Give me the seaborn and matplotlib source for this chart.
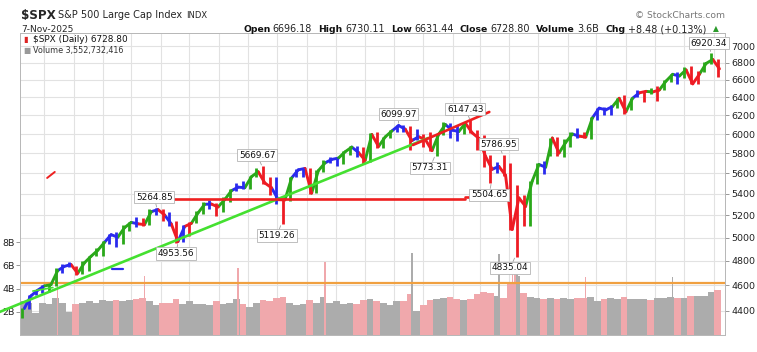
import numpy as np
import pandas as pd
import matplotlib
matplotlib.use("Agg")
import matplotlib.pyplot as plt
from matplotlib.ticker import FixedLocator, NullLocator, FixedFormatter
from matplotlib.transforms import blended_transform_factory
import seaborn as sns

# ---------------- data (weekly) ----------------
week_end = pd.date_range("2023-11-10", periods=105, freq="7D")
week_high = [4418, 4521, 4560, 4598, 4610, 4739, 4778, 4793, 4754, 4802,
             4842, 4907, 4975, 5030, 5048, 5111, 5140, 5189, 5179, 5261,
             5265, 5263, 5230, 5149, 5114, 5140, 5239, 5325, 5342, 5315,
             5375, 5447, 5505, 5524, 5570, 5655, 5670, 5566, 5566, 5358,
             5564, 5643, 5651, 5651, 5636, 5734, 5767, 5757, 5823, 5878,
             5878, 5863, 6012, 6018, 5972, 6044, 6100, 6100, 6085, 6050,
             6000, 6021, 5997, 6128, 6120, 6101, 6128, 6147, 6043, 5987,
             5783, 5715, 5787, 5700, 5481, 5386, 5528, 5700, 5721, 5959,
             5968, 5944, 6016, 6059, 6024, 6187, 6284, 6290, 6315, 6395,
             6427, 6395, 6481, 6469, 6508, 6532, 6600, 6672, 6693, 6750,
             6764, 6707, 6807, 6920, 6850]
week_low = [4340, 4413, 4525, 4537, 4546, 4590, 4697, 4751, 4682, 4689,
            4714, 4845, 4845, 4942, 4920, 4946, 5057, 5091, 5104, 5117,
            5204, 5146, 5107, 4954, 4963, 5012, 5130, 5211, 5256, 5191,
            5234, 5325, 5429, 5447, 5445, 5560, 5497, 5391, 5306, 5119,
            5331, 5560, 5560, 5403, 5406, 5615, 5703, 5674, 5696, 5784,
            5762, 5696, 5707, 5853, 5854, 5960, 6017, 6024, 5832, 5932,
            5869, 5827, 5773, 5990, 5962, 5923, 6003, 6008, 5837, 5666,
            5505, 5603, 5572, 5070, 4835, 5102, 5101, 5500, 5590, 5768,
            5768, 5767, 5861, 5963, 5953, 5943, 6145, 6201, 6201, 6281,
            6212, 6257, 6400, 6343, 6441, 6360, 6481, 6577, 6551, 6625,
            6551, 6551, 6690, 6780, 6631]
week_close = [4415, 4514, 4559, 4594, 4604, 4719, 4755, 4770, 4697, 4784,
              4840, 4891, 4959, 5027, 5005, 5089, 5137, 5124, 5117, 5234,
              5254, 5204, 5123, 4967, 5100, 5128, 5223, 5303, 5305, 5278,
              5347, 5431, 5465, 5460, 5567, 5615, 5505, 5459, 5346, 5344,
              5554, 5634, 5648, 5408, 5626, 5703, 5738, 5751, 5815, 5864,
              5808, 5729, 5995, 5870, 5969, 6032, 6090, 6051, 5931, 5971,
              5942, 5827, 5997, 6101, 6041, 6026, 6115, 6013, 5955, 5770,
              5639, 5668, 5581, 5074, 5363, 5283, 5525, 5687, 5660, 5958,
              5803, 5912, 6000, 5977, 5968, 6173, 6279, 6260, 6297, 6389,
              6238, 6389, 6450, 6467, 6460, 6482, 6584, 6664, 6644, 6716,
              6553, 6664, 6792, 6840, 6728]
week_color = list("gbbbggbbrg" "gggbbggbrg" "brbrbrggbr" "ggbbggrrbr"
                  "gbbrggbbgg" "brgrggbbrb" "rrggbbgrrr" "rbrrrrggbg"
                  "rggbrgbbbg" "rgbrgrggbg" "rrggr")
week_volume = [2.9, 2.8, 1.9, 2.8, 2.7, 3.2, 2.8, 2.0, 2.7, 2.8,
               2.9, 2.8, 3.0, 2.9, 3.0, 2.9, 3.0, 3.1, 3.2, 2.9,
               2.6, 2.8, 2.8, 3.1, 2.7, 2.9, 2.7, 2.7, 2.6, 2.9,
               2.7, 2.8, 3.1, 2.7, 2.4, 2.8, 3.0, 2.9, 3.2, 3.3,
               2.8, 2.6, 2.7, 3.0, 2.8, 3.3, 2.8, 2.9, 2.7, 2.8,
               2.7, 3.0, 3.1, 2.9, 2.8, 2.6, 2.9, 2.9, 3.5, 2.1,
               2.6, 3.0, 3.1, 3.2, 3.3, 3.1, 3.0, 3.1, 3.5, 3.7,
               3.6, 3.4, 3.2, 4.5, 5.1, 3.6, 3.3, 3.2, 3.1, 3.2,
               3.1, 3.2, 3.1, 3.2, 3.2, 3.3, 2.9, 3.1, 3.2, 3.1,
               3.3, 3.1, 3.1, 3.1, 3.0, 3.2, 3.2, 3.3, 3.2, 3.2,
               3.4, 3.4, 3.4, 3.7, 3.9]

spike_dates = pd.to_datetime(["2023-12-15", "2024-03-15", "2024-06-21", "2024-09-20",
                              "2024-12-20", "2025-03-21", "2025-04-04", "2025-04-07",
                              "2025-04-09", "2025-06-20", "2025-09-19"])
spike_volume = [5.7, 5.1, 5.8, 6.3, 7.1, 7.0, 5.5, 6.1, 5.6, 5.0, 5.0]
spike_down = [1, 1, 1, 1, 0, 0, 1, 1, 0, 1, 0]

ann_dates = pd.to_datetime(["2024-03-28", "2024-04-19", "2024-07-16", "2024-08-05",
                            "2024-12-06", "2025-01-13", "2025-02-19", "2025-03-25",
                            "2025-03-13", "2025-04-07", "2025-10-29"])
ann_values = [5264.85, 4953.56, 5669.67, 5119.26, 6099.97, 5773.31,
              6147.43, 5786.95, 5504.65, 4835.04, 6920.34]
ann_offsets = [(-2, 8), (-1.5, -7.5), (-3.5, 8), (-3, -8), (0, 7.5), (-3.5, -8.5),
               (-3.5, 8), (-3, 7.5), (-1.5, -8.5), (-3.5, -8), (-1.5, 7)]

green_trend_dates = pd.to_datetime(["2023-10-15", "2025-01-06"])
green_trend_prices = [4388, 5958]
green_short_dates = pd.to_datetime(["2023-11-19", "2023-12-10"])
green_short_prices = [4553, 4581]
red_trend_dates = pd.to_datetime(["2024-12-21", "2025-03-11"])
red_trend_prices = [5885, 6237]
red_level_dates = pd.to_datetime(["2024-04-03", "2025-02-14", "2025-02-14", "2025-03-31"])
red_level_prices = [5353, 5353, 5367, 5367]
red_stray_dates = pd.to_datetime(["2023-12-04", "2023-12-12"])
red_stray_prices = [5554, 5613]
blue_stray_dates = pd.to_datetime(["2024-02-10", "2024-02-21"])
blue_stray_prices = [4733, 4733]
orange_level = 4618

price_ticks = list(range(4400, 7001, 200))
vol_ticks = [2, 4, 6, 8]
vol_labels = ["2B", "4B", "6B", "8B"]
month_ticks = pd.date_range("2023-12-01", "2025-11-01", freq="MS")

# ---------------- styling ----------------
sns.set_style("white")
plt.rcParams["font.family"] = ["DejaVu Sans"]
W, H = 757, 352
palette = {"g": "#2aa81a", "r": "#ee1c24", "b": "#2a2aee"}
PINK, GREY = "#f0a8ac", "#acacac"
GRID = "#e2e2e2"

fig = plt.figure(figsize=(W / 100, H / 100), dpi=100)
fig.patch.set_facecolor("white")
ax_vol = fig.add_axes([20 / W, (H - 335) / H, 705 / W, 302 / H])
ax = ax_vol.twinx()

xlim = (pd.Timestamp("2023-11-05 14:00"), pd.Timestamp("2025-11-12 19:00"))
ax.set_yscale("log")
ax.set_ylim(4214.6, 7165.4)
ax_vol.set_ylim(0, 302 / 11.6)
for a in (ax, ax_vol):
    a.set_xlim(*xlim)

# grid (on the back axes)
for m in month_ticks:
    ax_vol.axvline(m, color=GRID, lw=0.8, zorder=0)
btrans = blended_transform_factory(ax_vol.transAxes, ax.transData)
for p in price_ticks:
    ax_vol.plot([0, 1], [p, p], transform=btrans, color=GRID, lw=0.8, zorder=0)

# volume bars
mid = week_end - pd.Timedelta(days=2)
closes = np.array(week_close)
down = np.r_[False, closes[1:] < closes[:-1]]
ax_vol.bar(mid, week_volume, width=7.0, color=[PINK if d else GREY for d in down],
           linewidth=0, zorder=1)
ax_vol.bar(spike_dates, spike_volume, width=1.4,
           color=[PINK if d else GREY for d in spike_down], linewidth=0, zorder=2)

# orange level
ax.axhline(orange_level, color="#f0a040", lw=1.6, zorder=2)

# price: weekly segments between closes + weekly high-low bars
rows = []
for i in range(1, len(week_end)):
    rows.append((week_end[i - 1], week_close[i - 1], i, week_color[i]))
    rows.append((week_end[i], week_close[i], i, week_color[i]))
seg = pd.DataFrame(rows, columns=["date", "price", "seg", "c"])
sns.lineplot(data=seg, x="date", y="price", hue="c", units="seg", estimator=None,
             palette=palette, legend=False, linewidth=2.1, sort=False, ax=ax,
             solid_capstyle="round", zorder=3)
ax.vlines(mid, week_low, week_high, colors=[palette[c] for c in week_color],
          linewidth=2.0, zorder=3)

# drawn trend lines
ax.plot(green_trend_dates, green_trend_prices, color="#44e030", lw=1.9, zorder=4, clip_on=False)
ax.plot(green_short_dates, green_short_prices, color="#44e030", lw=1.2, zorder=4)
ax.plot(red_trend_dates, red_trend_prices, color="#ee2020", lw=1.9, zorder=4)
ax.plot(red_level_dates[:2], red_level_prices[:2], color="#ee2020", lw=1.9, zorder=4)
ax.plot(red_level_dates[2:], red_level_prices[2:], color="#ee2020", lw=1.9, zorder=4)
ax.plot(red_stray_dates, red_stray_prices, color="#ee2020", lw=1.4, zorder=4)
ax.plot(blue_stray_dates, blue_stray_prices, color="#2a2aee", lw=1.6, zorder=4)

# annotations
for d, v, off in zip(ann_dates, ann_values, ann_offsets):
    ax.annotate(f"{v:.2f}", xy=(d, v), xytext=off, textcoords="offset points",
                ha="center", va="center", fontsize=6.4, color="#111111", zorder=6,
                bbox=dict(boxstyle="square,pad=0.18", fc="white", ec="#b4b4b4", lw=0.6),
                arrowprops=dict(arrowstyle="-", color="#a0a0a0", lw=0.6,
                                shrinkA=0, shrinkB=1))

# axes: price ticks on right, volume ticks on left
ax.yaxis.set_major_locator(FixedLocator(price_ticks))
ax.yaxis.set_major_formatter(FixedFormatter([str(p) for p in price_ticks]))
ax.yaxis.set_minor_locator(NullLocator())
ax.tick_params(axis="y", which="major", right=True, length=3, width=0.6, color="#888888",
               labelsize=6.8, pad=1.5, labelcolor="#222222")
ax.grid(False)
ax_vol.yaxis.tick_left()
ax_vol.set_yticks(vol_ticks)
ax_vol.set_yticklabels(vol_labels)
ax_vol.tick_params(axis="y", left=True, length=3, width=0.6, color="#888888",
                   labelsize=6.8, pad=1.0, labelcolor="#222222")
ax_vol.set_xticks(month_ticks)
labels = [str(m.year) if m.month == 1 else m.strftime("%b") for m in month_ticks]
ax_vol.set_xticklabels(labels)
ax_vol.tick_params(axis="x", length=0, labelsize=6.8, pad=3, labelcolor="#222222")
for t, m in zip(ax_vol.get_xticklabels(), month_ticks):
    if m.month == 1:
        t.set_fontweight("bold")
        t.set_fontsize(7.6)
ax.set_xticks([])
for a in (ax, ax_vol):
    a.set_xlabel("")
    a.set_ylabel("")
    for s in a.spines.values():
        s.set_color("#b8b8b8")
        s.set_linewidth(0.7)

# legend text inside the chart
ax.text(0.004, 0.977, "\u25AE", transform=ax.transAxes, fontsize=6, color="#dd2222",
        va="center", ha="left", zorder=7)
ax.text(0.0185, 0.977, "$SPX (Daily) 6728.80", transform=ax.transAxes, fontsize=6.4,
        va="center", ha="left", color="#111111", zorder=7)
ax.text(0.004, 0.943, "\u25A0", transform=ax.transAxes, fontsize=5.5, color="#999999",
        va="center", ha="left", zorder=7)
ax.text(0.0185, 0.943, "Volume 3,552,732,416", transform=ax.transAxes, fontsize=5.8,
        va="center", ha="left", color="#333333", zorder=7)

# header
def fx(x):
    return x / W
def fy(y):
    return 1 - y / H

fig.text(fx(21), fy(15), "$SPX", fontsize=8.6, fontweight="bold", va="center", ha="left")
fig.text(fx(58), fy(15), "S&P 500 Large Cap Index", fontsize=7.0, va="center", ha="left")
fig.text(fx(186), fy(15.5), "INDX", fontsize=6.0, va="center", ha="left")
fig.text(fx(21), fy(29), "7-Nov-2025", fontsize=6.5, va="center", ha="left")
fig.text(fx(725), fy(15), "\u00A9 StockCharts.com", fontsize=6.6, color="#777777",
         va="center", ha="right")

fig.canvas.draw()
r = fig.canvas.get_renderer()
parts = [("Open", True), ("6696.18", False), ("High", True), ("6730.11", False),
         ("Low", True), ("6631.44", False), ("Close", True), ("6728.80", False),
         ("Volume", True), ("3.6B", False), ("Chg", True), ("+8.48 (+0.13%)", False)]
x = 243.0
for txt, bold in parts:
    t = fig.text(fx(x), fy(29), txt, fontsize=6.7 if bold else 6.9,
                 fontweight="bold" if bold else "normal", va="center", ha="left",
                 color="#111111" if bold else "#222222")
    bb = t.get_window_extent(renderer=r)
    x = bb.x1 + (2.2 if bold else 6.5)
fig.text(fx(x), fy(28.5), "\u25B2", fontsize=5.5, color="#2a9a2a", va="center", ha="left")

fig.savefig("out.png", dpi=100, facecolor="white")
